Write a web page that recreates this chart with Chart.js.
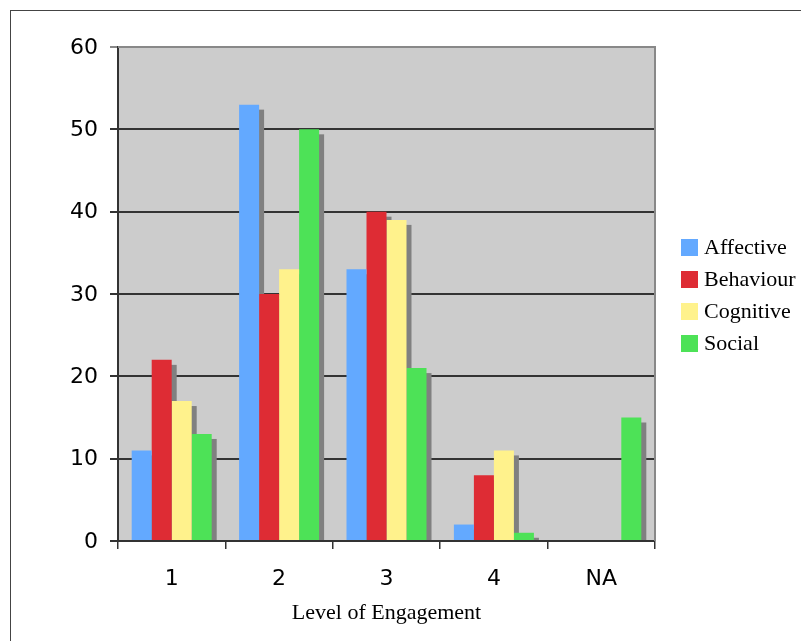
<!DOCTYPE html>
<html lang="en">
<head>
  <meta charset="UTF-8">
  <title>Level of Engagement</title>
  <script src="https://cdn.jsdelivr.net/npm/chart.js"></script>
  <style>
    body { margin: 0; background: #fff; }
    #wrap { position: relative; width: 801px; height: 641px; overflow: hidden; }
    #frame { position: absolute; left: 10px; top: 10px; width: 900px; height: 900px;
             border-left: 1px solid #444; border-top: 1px solid #444; }
    #chart { position: absolute; left: 0; top: 0; }
    #legend { position: absolute; left: 681px; top: 231px; font-family: "Liberation Serif", serif;
              font-size: 22px; color: #000; }
    #legend div { height: 32px; display: flex; align-items: center; }
    #legend span { display: inline-block; width: 17px; height: 17px; margin-right: 6px; }
  </style>
</head>
<body>
  <div id="wrap">
    <div id="frame"></div>
    <canvas id="chart" width="801" height="641"></canvas>
    <div id="legend"></div>
  </div>

  <script>
    // data
    const levels = ['1', '2', '3', '4', 'NA'];
    const affective = [11, 53, 33, 2, 0];
    const behaviour = [22, 30, 40, 8, 0];
    const cognitive = [17, 33, 39, 11, 0];
    const social = [13, 50, 21, 1, 15];
    const yTicks = [0, 10, 20, 30, 40, 50, 60];

    const seriesNames = ['Affective', 'Behaviour', 'Cognitive', 'Social'];
    const seriesColors = ['#63a9ff', '#de2c34', '#fff28c', '#4de257'];
    const seriesData = [affective, behaviour, cognitive, social];

    // grey plot area + shadow behind every bar
    const plotBack = {
      id: 'plotBack',
      beforeDraw(chart) {
        const { ctx, chartArea: a } = chart;
        ctx.save();
        ctx.fillStyle = '#cccccc';
        ctx.fillRect(a.left, a.top, a.right - a.left, a.bottom - a.top);
        ctx.restore();
      },
      beforeDatasetsDraw(chart) {
        const { ctx, chartArea: a } = chart;
        ctx.save();
        ctx.beginPath();
        ctx.rect(a.left, a.top, a.right - a.left, a.bottom - a.top);
        ctx.clip();
        ctx.fillStyle = '#808080';
        chart.data.datasets.forEach((ds, i) => {
          chart.getDatasetMeta(i).data.forEach(bar => {
            const h = bar.base - bar.y - 5;
            if (h > 0) ctx.fillRect(bar.x - bar.width / 2 + 5, bar.y + 5, bar.width, h);
          });
        });
        ctx.restore();
      },
      afterDraw(chart) {
        const { ctx, chartArea: a } = chart;
        ctx.save();
        ctx.strokeStyle = '#888';
        ctx.lineWidth = 2;
        ctx.beginPath();
        ctx.moveTo(a.left, a.top);
        ctx.lineTo(a.right, a.top);
        ctx.lineTo(a.right, a.bottom);
        ctx.stroke();
        ctx.restore();
      }
    };

    const datasets = seriesNames.map((name, i) => ({
      label: name,
      data: seriesData[i],
      backgroundColor: seriesColors[i],
      borderWidth: 0,
      barPercentage: 1,
      categoryPercentage: 0.745
    }));

    new Chart(document.getElementById('chart'), {
      type: 'bar',
      data: { labels: levels, datasets: datasets },
      plugins: [plotBack],
      options: {
        responsive: false,
        animation: false,
        devicePixelRatio: 1,
        layout: { padding: { top: 47, right: 146, left: 0, bottom: 0 } },
        plugins: { legend: { display: false }, tooltip: { enabled: false } },
        scales: {
          x: {
            afterFit(s) { s.height = 100; },
            grid: { display: true, drawOnChartArea: false, tickLength: 8, color: '#333', lineWidth: 1.5 },
            border: { color: '#333', width: 2 },
            ticks: { color: '#000', padding: 17, font: { family: 'DejaVu Sans', size: 22 } },
            title: {
              display: true, text: 'Level of Engagement', color: '#000',
              font: { family: 'Liberation Serif', size: 22 }, padding: { top: 0, bottom: 15 }
            }
          },
          y: {
            min: 0, max: 60,
            afterFit(s) { s.width = 118; },
            afterBuildTicks(s) { s.ticks = yTicks.map(v => ({ value: v })); },
            grid: {
              tickLength: 8,
              color: c => (c.tick && c.tick.value === 60 ? '#888' : '#333'),
              lineWidth: 2
            },
            border: { color: '#333', width: 2 },
            ticks: { color: '#000', padding: 12, labelOffset: 1, font: { family: 'DejaVu Sans', size: 22 } }
          }
        }
      }
    });

    // legend as plain html on the right
    const legend = document.getElementById('legend');
    seriesNames.forEach((name, i) => {
      const row = document.createElement('div');
      row.innerHTML = '<span style="background:' + seriesColors[i] + '"></span>' + name;
      legend.appendChild(row);
    });
  </script>
</body>
</html>
